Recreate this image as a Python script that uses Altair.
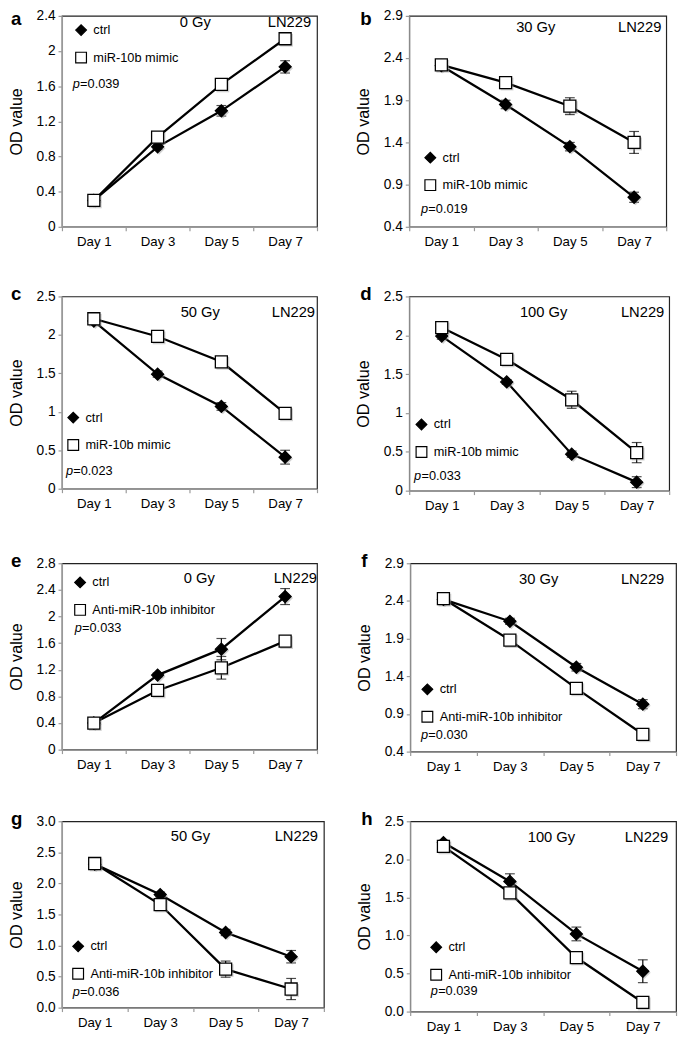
import altair as alt
import pandas as pd

FONT = "Liberation Sans"

days = ["Day 1", "Day 3", "Day 5", "Day 7"]
letters = ["a", "b", "c", "d", "e", "f", "g", "h"]
doses = ["0 Gy", "30 Gy", "50 Gy", "100 Gy", "0 Gy", "30 Gy", "50 Gy", "100 Gy"]
cell_line = "LN229"
ctrl_label = "ctrl"
treat_labels = ["miR-10b mimic"] * 4 + ["Anti-miR-10b inhibitor"] * 4
p_values = ["0.039", "0.019", "0.023", "0.033", "0.033", "0.030", "0.036", "0.039"]

ctrl_values = [
    [0.30, 0.91, 1.32, 1.82],
    [2.31, 1.85, 1.35, 0.75],
    [2.18, 1.49, 1.07, 0.41],
    [1.99, 1.40, 0.47, 0.11],
    [0.40, 1.12, 1.51, 2.30],
    [2.42, 2.13, 1.52, 1.03],
    [2.31, 1.82, 1.21, 0.82],
    [2.22, 1.71, 1.02, 0.53],
]
ctrl_errors = [
    [0.02, 0.03, 0.06, 0.07],
    [0.05, 0.05, 0.05, 0.06],
    [0.03, 0.04, 0.05, 0.09],
    [0.04, 0.03, 0.04, 0.07],
    [0.02, 0.03, 0.16, 0.12],
    [0.03, 0.04, 0.05, 0.06],
    [0.03, 0.04, 0.05, 0.10],
    [0.03, 0.10, 0.09, 0.15],
]
treat_values = [
    [0.30, 1.02, 1.62, 2.14],
    [2.32, 2.11, 1.83, 1.40],
    [2.21, 1.98, 1.65, 0.98],
    [2.10, 1.69, 1.17, 0.49],
    [0.40, 0.89, 1.23, 1.63],
    [2.43, 1.88, 1.24, 0.63],
    [2.32, 1.66, 0.62, 0.30],
    [2.17, 1.56, 0.71, 0.12],
]
treat_errors = [
    [0.02, 0.03, 0.04, 0.05],
    [0.04, 0.03, 0.10, 0.13],
    [0.03, 0.03, 0.05, 0.06],
    [0.03, 0.03, 0.11, 0.13],
    [0.02, 0.03, 0.17, 0.04],
    [0.03, 0.03, 0.03, 0.07],
    [0.03, 0.03, 0.13, 0.17],
    [0.03, 0.03, 0.05, 0.03],
]
y_domains = [[0, 2.4], [0.4, 2.9], [0, 2.5], [0, 2.5], [0, 2.8], [0.4, 2.9], [0, 3.0], [0, 2.5]]
y_ticks = [
    [0, 0.4, 0.8, 1.2, 1.6, 2.0, 2.4],
    [0.4, 0.9, 1.4, 1.9, 2.4, 2.9],
    [0, 0.5, 1.0, 1.5, 2.0, 2.5],
    [0, 0.5, 1.0, 1.5, 2.0, 2.5],
    [0, 0.4, 0.8, 1.2, 1.6, 2.0, 2.4, 2.8],
    [0.4, 0.9, 1.4, 1.9, 2.4, 2.9],
    [0, 0.5, 1.0, 1.5, 2.0, 2.5, 3.0],
    [0, 0.5, 1.0, 1.5, 2.0, 2.5],
]
y_formats = [".1~f", ".1f", ".1~f", ".1~f", ".1~f", ".1f", ".1f", ".1f"]

# layout (pixels, relative to each plot area)
widths = [260, 262, 260, 265, 260, 271, 267, 271]
heights = [215, 215, 196, 198, 190, 192, 190, 194]
dose_pos = [(136, 11), (129, 16), (141, 21), (137, 21), (140, 20), (131, 21), (131, 20), (144, 21)]
cell_pos = [(254, 11), (257, 16), (258, 21), (260, 21), (260, 20), (259, 21), (261, 20), (263, 21)]
legend_pos = [(13, 8), (15, 138), (5, 117), (6, 124), (12, 13), (11, 122), (10, 121), (20, 122)]
p_pos = [(11, 73), (12, 201), (4, 182), (5, 187), (13, 70), (11, 179), (11, 178), (21, 177)]
letter_pos = [(-52, 9), (-50, 9), (-52, 4), (-50, 4), (-52, 4), (-50, 4), (-52, 4), (-50, 4)]
hspacing = [37, 37, 38, 31]
vspacing = [36, 39, 36]


def panel(i):
    series_dom = [ctrl_label, treat_labels[i]]
    rows = []
    for s, vals, errs in [
        (ctrl_label, ctrl_values[i], ctrl_errors[i]),
        (treat_labels[i], treat_values[i], treat_errors[i]),
    ]:
        for j, d in enumerate(days):
            rows.append(dict(day=d, series=s, value=vals[j],
                             lo=vals[j] - errs[j], hi=vals[j] + errs[j]))
    df = pd.DataFrame(rows)

    xscale = alt.Scale(type="band", domain=days, paddingInner=0, paddingOuter=0)
    xaxis = alt.Axis(title=None, labelAngle=0, tickBand="extent")
    yscale = alt.Scale(domain=y_domains[i], nice=False, zero=False)
    yaxis = alt.Axis(title="OD value", values=y_ticks[i], format=y_formats[i])

    def X():
        return alt.X("day:N", sort=days, scale=xscale, axis=xaxis)

    def Y(f):
        return alt.Y(f, scale=yscale, axis=yaxis)

    base = alt.Chart(df)
    lines = base.mark_line(color="black", strokeWidth=2.3).encode(
        x=X(), y=Y("value:Q"), detail="series:N")
    rules = base.mark_rule(color="black", strokeWidth=1.2).encode(
        x=X(), y=Y("lo:Q"), y2="hi:Q")
    cap_lo = base.mark_tick(color="black", thickness=1.2, size=10).encode(
        x=X(), y=Y("lo:Q"))
    cap_hi = base.mark_tick(color="black", thickness=1.2, size=10).encode(
        x=X(), y=Y("hi:Q"))
    shadows = [
        base.transform_filter(alt.datum.series == s).mark_point(
            filled=True, size=170, color="#999", opacity=0.45, shape=shp,
            xOffset=1.5, yOffset=1.5).encode(x=X(), y=Y("value:Q"))
        for s, shp in zip(series_dom, ["diamond", "square"])
    ]
    lx, ly = legend_pos[i]
    leg = alt.Legend(title=None, orient="none", legendX=lx, legendY=ly, padding=0,
                     rowPadding=11, labelFontSize=13, labelFont=FONT, labelColor="black",
                     symbolStrokeColor="black", symbolStrokeWidth=1.2, symbolSize=120,
                     labelOffset=6, symbolOpacity=1)
    points = base.mark_point(filled=True, size=150, strokeWidth=1.3, opacity=1).encode(
        x=X(), y=Y("value:Q"),
        shape=alt.Shape("series:N", scale=alt.Scale(domain=series_dom, range=["diamond", "square"]), legend=leg),
        fill=alt.Fill("series:N", scale=alt.Scale(domain=series_dom, range=["black", "white"]), legend=leg),
        stroke=alt.Stroke("series:N", scale=alt.Scale(domain=series_dom, range=["black", "black"]), legend=leg),
    )

    one = alt.Data(values=[{"k": 0}])

    def txt(s, x, y, align="left", size=13, **kw):
        return alt.Chart(one).mark_text(text=s, align=align, baseline="alphabetic", font=FONT,
                                        color="black", fontSize=size, **kw).encode(
            x=alt.value(x), y=alt.value(y))

    dx, dy = dose_pos[i]
    cx, cy = cell_pos[i]
    px, py = p_pos[i]
    tx, ty = letter_pos[i]
    texts = [
        txt(doses[i], dx, dy, align="center", size=15),
        txt(cell_line, cx, cy, align="right", size=15),
        txt("p", px, py, fontStyle="italic"),
        txt("=" + p_values[i], px + 7.5, py),
        txt(letters[i], tx, ty, size=19, fontWeight="bold"),
    ]
    return alt.layer(lines, rules, cap_lo, cap_hi, *shadows, points, *texts).properties(
        width=widths[i], height=heights[i])


def indep(c):
    return c.resolve_scale(x="independent", y="independent", shape="independent",
                           fill="independent", stroke="independent").resolve_legend(
        shape="independent", fill="independent", stroke="independent")


rows = []
for r in range(4):
    rows.append(indep(alt.hconcat(panel(2 * r), panel(2 * r + 1), spacing=hspacing[r])))

bottom = indep(alt.vconcat(rows[2], rows[3], spacing=vspacing[2]))
middle = indep(alt.vconcat(rows[1], bottom, spacing=vspacing[1]))
chart = indep(alt.vconcat(rows[0], middle, spacing=vspacing[0])).properties(
    padding={"left": 0, "top": -10, "right": 0, "bottom": 0}
).configure_view(
    stroke="#222", strokeWidth=1.2
).configure_axis(
    domainColor="#999", domainWidth=1.2, tickColor="#999", tickWidth=1.2, tickSize=4,
    labelFont=FONT, labelColor="black",
    titleFont=FONT, titleFontSize=16.5, titleColor="black", titleFontWeight="normal", grid=False,
).configure_axisY(
    labelPadding=3, minExtent=28, maxExtent=28, titlePadding=10, labelFontSize=14
).configure_axisX(
    labelPadding=4, labelFontSize=13.5
)

chart.save("out.html", embed_options={"renderer": "svg", "actions": False})
